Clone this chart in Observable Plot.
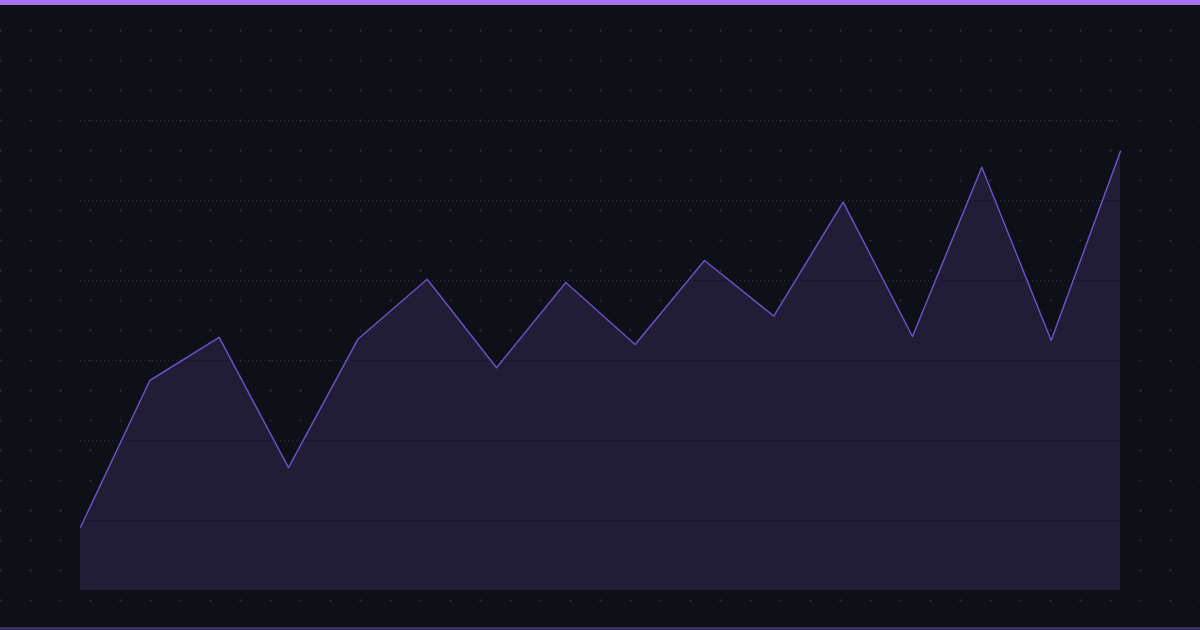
<!DOCTYPE html>
<html>
<head>
<meta charset="utf-8">
<script src="https://cdn.jsdelivr.net/npm/d3@7"></script>
<script src="https://cdn.jsdelivr.net/npm/@observablehq/plot@0.6"></script>
<style>
  html, body { margin: 0; padding: 0; background: #0d1017; }
  #wrap { position: relative; width: 1200px; height: 630px; overflow: hidden; background-color: #0d1017; background-position: -15px -15px; }
  #topbar { position: absolute; left: 0; top: 0; width: 1200px; height: 5px; background: #a473f6; z-index: 2; }
  #bottombar { position: absolute; left: 0; bottom: 0; width: 1200px; height: 3px; background: #3a2e5b; z-index: 2; }
  #chart { position: absolute; left: 0; top: 0; }
</style>
</head>
<body>
<div id="wrap">
  <div id="chart"></div>
  <div id="topbar"></div>
  <div id="bottombar"></div>
</div>
<script>
// Data (arbitrary units)
const values = [18.3, 55.0, 65.8, 33.2, 65.3, 80.3, 58.2, 79.5, 64.0, 85.0, 71.1, 99.6, 66.0, 108.3, 65.0, 112.3];
const gridTicks = [20, 40, 60, 80, 100, 120];
const yDomain = [2.5, 120];

const tile = "<svg xmlns='http://www.w3.org/2000/svg' width='30' height='30'><path d='M14 15h3v1h-3zM15 14h1v3h-1z' fill='#252040'/></svg>";
document.getElementById("wrap").style.backgroundImage = `url("data:image/svg+xml,${encodeURIComponent(tile)}")`;

const idx = d3.range(values.length);
const chart = Plot.plot({
  width: 1200,
  height: 630,
  marginLeft: 80,
  marginRight: 80,
  marginTop: 120,
  marginBottom: 40,
  style: { background: "transparent", overflow: "visible" },
  x: { domain: [0, values.length - 1], axis: null },
  y: { domain: yDomain, axis: null },
  marks: [
    // light dotted grid (visible above the area)
    Plot.ruleY(gridTicks, { stroke: "#2e2749", strokeDasharray: "1,3" }),
    Plot.areaY(idx, { x: i => i, y1: yDomain[0], y2: i => values[i], fill: "#221d36" }),
    // dark dotted grid (visible over the area)
    Plot.ruleY(gridTicks, { stroke: "#0b0b12", strokeDasharray: "1,3", strokeDashoffset: 2 }),
    Plot.lineY(idx, { x: i => i, y: i => values[i], stroke: "#6c4fc0", strokeWidth: 1.5 })
  ]
});
document.getElementById("chart").appendChild(chart);
</script>
</body>
</html>
